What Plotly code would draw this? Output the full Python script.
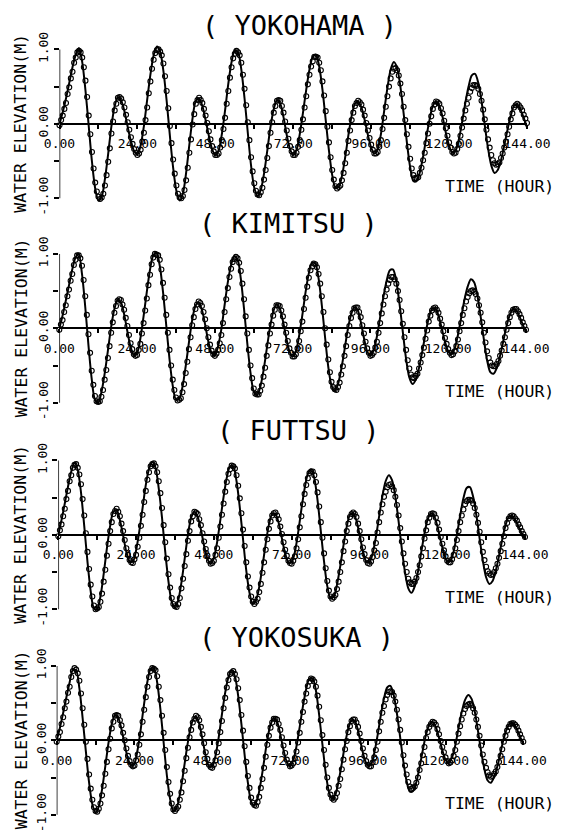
import plotly.graph_objects as go

# ---------------- data ----------------
HOURS = list(range(0, 145))                       # computed series, hourly
OBS_HOURS = [k * 0.5 for k in range(0, 289)]      # observed series, half-hourly
STATIONS = ["YOKOHAMA", "KIMITSU", "FUTTSU", "YOKOSUKA"]

YOKOHAMA_COMPUTED = [
    0.00, 0.16, 0.34, 0.55, 0.76, 0.93, 1.02, 0.83, 0.45, -0.03,
    -0.51, -0.87, -1.03, -0.98, -0.74, -0.40, -0.03, 0.24, 0.36, 0.31,
    0.17, -0.04, -0.23, -0.37, -0.41, -0.29, -0.03, 0.32, 0.66, 0.92,
    1.04, 0.97, 0.71, 0.31, -0.16, -0.59, -0.90, -1.03, -0.94, -0.66,
    -0.28, 0.08, 0.31, 0.34, 0.24, 0.05, -0.16, -0.34, -0.42, -0.36,
    -0.14, 0.18, 0.54, 0.83, 0.99, 0.96, 0.73, 0.34, -0.12, -0.56,
    -0.86, -0.97, -0.89, -0.67, -0.36, -0.04, 0.20, 0.32, 0.27, 0.09,
    -0.15, -0.34, -0.42, -0.35, -0.14, 0.15, 0.46, 0.73, 0.90, 0.93,
    0.77, 0.46, 0.05, -0.36, -0.69, -0.86, -0.85, -0.70, -0.45, -0.15,
    0.11, 0.27, 0.30, 0.22, 0.05, -0.15, -0.32, -0.40, -0.34, -0.14,
    0.17, 0.48, 0.73, 0.83, 0.75, 0.50, 0.14, -0.25, -0.58, -0.77,
    -0.77, -0.65, -0.44, -0.18, 0.06, 0.24, 0.30, 0.24, 0.09, -0.12,
    -0.29, -0.39, -0.36, -0.21, 0.02, 0.28, 0.50, 0.65, 0.67, 0.55,
    0.30, -0.02, -0.33, -0.56, -0.66, -0.62, -0.49, -0.29, -0.08, 0.11,
    0.24, 0.26, 0.19, 0.08, -0.05]
YOKOHAMA_OBSERVED = [
    -0.02, 0.05, 0.11, 0.20, 0.28, 0.40, 0.49, 0.61, 0.70, 0.82,
    0.89, 0.96, 0.98, 0.96, 0.89, 0.76, 0.58, 0.36, 0.11, -0.14,
    -0.38, -0.60, -0.79, -0.91, -0.98, -1.01, -0.99, -0.94, -0.83, -0.69,
    -0.51, -0.33, -0.13, 0.03, 0.18, 0.27, 0.35, 0.36, 0.34, 0.29,
    0.22, 0.12, 0.02, -0.08, -0.18, -0.27, -0.34, -0.39, -0.42, -0.40,
    -0.35, -0.24, -0.12, 0.05, 0.22, 0.41, 0.57, 0.74, 0.86, 0.95,
    0.99, 1.00, 0.97, 0.92, 0.81, 0.64, 0.44, 0.21, -0.03, -0.26,
    -0.48, -0.67, -0.83, -0.94, -0.99, -1.00, -0.97, -0.89, -0.76, -0.59,
    -0.39, -0.21, -0.01, 0.13, 0.27, 0.32, 0.35, 0.32, 0.28, 0.20,
    0.11, 0.01, -0.10, -0.21, -0.30, -0.37, -0.42, -0.42, -0.40, -0.32,
    -0.22, -0.07, 0.08, 0.27, 0.44, 0.62, 0.76, 0.88, 0.94, 0.98,
    0.96, 0.92, 0.82, 0.66, 0.47, 0.25, 0.02, -0.22, -0.45, -0.64,
    -0.80, -0.90, -0.95, -0.96, -0.92, -0.86, -0.75, -0.62, -0.46, -0.30,
    -0.12, 0.02, 0.15, 0.24, 0.31, 0.32, 0.31, 0.24, 0.15, 0.03,
    -0.09, -0.20, -0.30, -0.37, -0.42, -0.42, -0.39, -0.31, -0.22, -0.08,
    0.06, 0.22, 0.37, 0.53, 0.66, 0.77, 0.84, 0.90, 0.90, 0.89,
    0.82, 0.72, 0.57, 0.38, 0.17, -0.04, -0.25, -0.45, -0.62, -0.75,
    -0.84, -0.87, -0.85, -0.83, -0.76, -0.66, -0.53, -0.39, -0.23, -0.09,
    0.05, 0.15, 0.24, 0.28, 0.31, 0.29, 0.26, 0.19, 0.11, 0.01,
    -0.09, -0.19, -0.28, -0.35, -0.40, -0.40, -0.38, -0.31, -0.22, -0.07,
    0.08, 0.23, 0.37, 0.50, 0.61, 0.70, 0.74, 0.75, 0.72, 0.65,
    0.54, 0.40, 0.23, 0.05, -0.14, -0.31, -0.47, -0.60, -0.69, -0.73,
    -0.73, -0.72, -0.66, -0.59, -0.49, -0.39, -0.26, -0.13, 0.00, 0.10,
    0.20, 0.26, 0.30, 0.29, 0.27, 0.21, 0.14, 0.04, -0.06, -0.16,
    -0.25, -0.32, -0.38, -0.40, -0.39, -0.34, -0.27, -0.16, -0.05, 0.07,
    0.18, 0.27, 0.35, 0.43, 0.48, 0.52, 0.52, 0.51, 0.47, 0.40,
    0.31, 0.19, 0.06, -0.08, -0.21, -0.32, -0.42, -0.49, -0.53, -0.55,
    -0.54, -0.52, -0.46, -0.40, -0.32, -0.24, -0.14, -0.04, 0.06, 0.14,
    0.22, 0.25, 0.27, 0.25, 0.22, 0.18, 0.12, 0.07,
    0.01]

KIMITSU_COMPUTED = [
    0.00, 0.17, 0.37, 0.58, 0.79, 0.95, 0.99, 0.73, 0.29, -0.23,
    -0.68, -0.96, -1.00, -0.86, -0.61, -0.30, 0.02, 0.26, 0.38, 0.35,
    0.19, -0.04, -0.25, -0.36, -0.33, -0.14, 0.16, 0.49, 0.79, 0.98,
    1.01, 0.84, 0.49, 0.04, -0.41, -0.77, -0.96, -0.95, -0.79, -0.51,
    -0.19, 0.11, 0.30, 0.35, 0.25, 0.05, -0.18, -0.33, -0.36, -0.24,
    -0.01, 0.31, 0.62, 0.85, 0.97, 0.93, 0.67, 0.26, -0.20, -0.60,
    -0.85, -0.90, -0.79, -0.57, -0.28, 0.01, 0.22, 0.32, 0.27, 0.10,
    -0.12, -0.31, -0.38, -0.31, -0.10, 0.18, 0.49, 0.74, 0.88, 0.87,
    0.67, 0.31, -0.12, -0.52, -0.77, -0.84, -0.75, -0.55, -0.29, -0.02,
    0.18, 0.28, 0.25, 0.09, -0.13, -0.31, -0.37, -0.29, -0.11, 0.15,
    0.42, 0.64, 0.78, 0.79, 0.63, 0.32, -0.05, -0.41, -0.66, -0.75,
    -0.69, -0.53, -0.31, -0.07, 0.14, 0.26, 0.27, 0.17, 0.00, -0.18,
    -0.31, -0.35, -0.27, -0.09, 0.14, 0.38, 0.56, 0.66, 0.62, 0.44,
    0.16, -0.15, -0.43, -0.59, -0.61, -0.53, -0.37, -0.17, 0.03, 0.18,
    0.26, 0.24, 0.16, 0.05, -0.05]
KIMITSU_OBSERVED = [
    -0.02, 0.05, 0.11, 0.22, 0.31, 0.43, 0.52, 0.64, 0.73, 0.85,
    0.92, 0.98, 0.98, 0.94, 0.84, 0.65, 0.43, 0.18, -0.08, -0.33,
    -0.57, -0.76, -0.91, -0.98, -0.99, -0.98, -0.92, -0.83, -0.69, -0.56,
    -0.40, -0.24, -0.06, 0.08, 0.21, 0.30, 0.37, 0.39, 0.38, 0.32,
    0.25, 0.14, 0.03, -0.09, -0.20, -0.28, -0.35, -0.37, -0.36, -0.29,
    -0.21, -0.07, 0.07, 0.24, 0.40, 0.58, 0.72, 0.86, 0.95, 1.00,
    0.99, 0.98, 0.92, 0.79, 0.61, 0.41, 0.18, -0.06, -0.29, -0.50,
    -0.69, -0.83, -0.93, -0.97, -0.96, -0.94, -0.86, -0.75, -0.60, -0.45,
    -0.28, -0.12, 0.04, 0.15, 0.26, 0.32, 0.36, 0.34, 0.30, 0.22,
    0.12, 0.00, -0.12, -0.22, -0.30, -0.35, -0.37, -0.34, -0.29, -0.20,
    -0.09, 0.07, 0.22, 0.39, 0.54, 0.69, 0.80, 0.89, 0.93, 0.96,
    0.94, 0.88, 0.77, 0.60, 0.39, 0.16, -0.07, -0.29, -0.50, -0.67,
    -0.81, -0.88, -0.89, -0.89, -0.84, -0.77, -0.65, -0.53, -0.37, -0.23,
    -0.07, 0.05, 0.17, 0.25, 0.31, 0.31, 0.30, 0.24, 0.16, 0.05,
    -0.06, -0.17, -0.27, -0.33, -0.38, -0.38, -0.35, -0.27, -0.17, -0.04,
    0.09, 0.26, 0.41, 0.56, 0.68, 0.78, 0.83, 0.87, 0.86, 0.82,
    0.73, 0.60, 0.43, 0.22, 0.00, -0.22, -0.42, -0.59, -0.72, -0.79,
    -0.82, -0.83, -0.79, -0.73, -0.62, -0.51, -0.37, -0.24, -0.09, 0.03,
    0.14, 0.21, 0.27, 0.28, 0.28, 0.22, 0.15, 0.04, -0.07, -0.18,
    -0.27, -0.33, -0.37, -0.36, -0.33, -0.26, -0.18, -0.06, 0.07, 0.20,
    0.32, 0.43, 0.52, 0.60, 0.65, 0.69, 0.69, 0.66, 0.60, 0.50,
    0.38, 0.23, 0.06, -0.12, -0.29, -0.43, -0.54, -0.62, -0.66, -0.67,
    -0.64, -0.61, -0.54, -0.46, -0.36, -0.26, -0.14, -0.03, 0.09, 0.17,
    0.24, 0.27, 0.28, 0.25, 0.21, 0.13, 0.05, -0.04, -0.13, -0.21,
    -0.28, -0.33, -0.36, -0.35, -0.31, -0.24, -0.15, -0.04, 0.07, 0.18,
    0.27, 0.36, 0.42, 0.47, 0.50, 0.51, 0.49, 0.46, 0.40, 0.31,
    0.21, 0.08, -0.06, -0.19, -0.31, -0.40, -0.46, -0.50, -0.51, -0.51,
    -0.48, -0.44, -0.37, -0.30, -0.21, -0.12, -0.02, 0.07, 0.15, 0.21,
    0.25, 0.26, 0.26, 0.23, 0.19, 0.14, 0.08, 0.03,
    -0.02]

FUTTSU_COMPUTED = [
    0.00, 0.20, 0.42, 0.65, 0.85, 0.97, 0.87, 0.57, 0.12, -0.36,
    -0.76, -0.99, -1.00, -0.83, -0.53, -0.18, 0.12, 0.31, 0.33, 0.20,
    -0.01, -0.23, -0.36, -0.36, -0.21, 0.05, 0.36, 0.67, 0.89, 0.98,
    0.90, 0.62, 0.23, -0.23, -0.63, -0.90, -0.98, -0.88, -0.64, -0.32,
    0.00, 0.23, 0.31, 0.24, 0.07, -0.15, -0.32, -0.39, -0.31, -0.10,
    0.20, 0.51, 0.77, 0.92, 0.92, 0.72, 0.37, -0.06, -0.48, -0.78,
    -0.93, -0.88, -0.70, -0.42, -0.12, 0.14, 0.28, 0.28, 0.16, -0.05,
    -0.25, -0.37, -0.37, -0.23, 0.03, 0.34, 0.62, 0.82, 0.88, 0.76,
    0.46, 0.05, -0.36, -0.69, -0.85, -0.83, -0.67, -0.42, -0.14, 0.11,
    0.27, 0.29, 0.19, -0.01, -0.22, -0.36, -0.37, -0.25, -0.03, 0.25,
    0.52, 0.72, 0.80, 0.73, 0.51, 0.18, -0.19, -0.51, -0.72, -0.78,
    -0.69, -0.49, -0.23, 0.02, 0.21, 0.29, 0.25, 0.11, -0.08, -0.25,
    -0.36, -0.35, -0.22, 0.00, 0.26, 0.49, 0.63, 0.64, 0.51, 0.26,
    -0.05, -0.35, -0.57, -0.66, -0.62, -0.48, -0.28, -0.06, 0.13, 0.24,
    0.25, 0.20, 0.11, 0.02, -0.06]
FUTTSU_OBSERVED = [
    -0.02, 0.06, 0.14, 0.25, 0.35, 0.48, 0.59, 0.72, 0.80, 0.90,
    0.94, 0.95, 0.90, 0.81, 0.68, 0.48, 0.26, 0.02, -0.23, -0.46,
    -0.67, -0.83, -0.95, -1.00, -0.99, -0.97, -0.90, -0.79, -0.63, -0.47,
    -0.28, -0.12, 0.05, 0.17, 0.28, 0.32, 0.35, 0.31, 0.25, 0.15,
    0.05, -0.07, -0.18, -0.27, -0.34, -0.37, -0.38, -0.33, -0.27, -0.16,
    -0.04, 0.12, 0.27, 0.44, 0.59, 0.74, 0.84, 0.92, 0.95, 0.96,
    0.92, 0.84, 0.72, 0.56, 0.36, 0.13, -0.10, -0.32, -0.53, -0.71,
    -0.85, -0.93, -0.96, -0.97, -0.93, -0.85, -0.72, -0.59, -0.42, -0.26,
    -0.08, 0.05, 0.18, 0.25, 0.31, 0.30, 0.28, 0.21, 0.13, 0.02,
    -0.09, -0.19, -0.28, -0.35, -0.39, -0.38, -0.35, -0.27, -0.18, -0.04,
    0.11, 0.27, 0.42, 0.58, 0.71, 0.82, 0.88, 0.93, 0.92, 0.89,
    0.80, 0.66, 0.49, 0.29, 0.07, -0.15, -0.37, -0.56, -0.71, -0.83,
    -0.90, -0.93, -0.90, -0.86, -0.77, -0.66, -0.51, -0.37, -0.20, -0.06,
    0.08, 0.18, 0.26, 0.29, 0.30, 0.26, 0.21, 0.11, 0.01, -0.10,
    -0.20, -0.28, -0.35, -0.38, -0.39, -0.35, -0.29, -0.18, -0.06, 0.10,
    0.25, 0.41, 0.55, 0.67, 0.76, 0.83, 0.85, 0.85, 0.80, 0.71,
    0.57, 0.38, 0.17, -0.04, -0.25, -0.45, -0.62, -0.75, -0.83, -0.86,
    -0.84, -0.81, -0.73, -0.63, -0.50, -0.37, -0.22, -0.09, 0.05, 0.15,
    0.24, 0.28, 0.30, 0.28, 0.24, 0.15, 0.05, -0.06, -0.17, -0.26,
    -0.34, -0.38, -0.39, -0.36, -0.30, -0.21, -0.11, 0.03, 0.17, 0.30,
    0.41, 0.51, 0.58, 0.64, 0.67, 0.68, 0.65, 0.60, 0.51, 0.40,
    0.26, 0.09, -0.09, -0.25, -0.39, -0.50, -0.59, -0.64, -0.66, -0.66,
    -0.63, -0.58, -0.50, -0.41, -0.29, -0.18, -0.05, 0.06, 0.17, 0.23,
    0.28, 0.29, 0.28, 0.23, 0.16, 0.07, -0.03, -0.12, -0.21, -0.29,
    -0.35, -0.37, -0.37, -0.33, -0.27, -0.18, -0.07, 0.05, 0.17, 0.26,
    0.34, 0.41, 0.45, 0.47, 0.47, 0.46, 0.42, 0.36, 0.27, 0.16,
    0.04, -0.10, -0.23, -0.34, -0.43, -0.49, -0.52, -0.54, -0.53, -0.50,
    -0.45, -0.39, -0.31, -0.22, -0.12, -0.02, 0.09, 0.16, 0.22, 0.25,
    0.26, 0.25, 0.22, 0.19, 0.14, 0.10, 0.05, 0.01,
    -0.03]

YOKOSUKA_COMPUTED = [
    0.00, 0.17, 0.37, 0.58, 0.78, 0.95, 0.94, 0.70, 0.30, -0.15,
    -0.57, -0.86, -0.97, -0.89, -0.66, -0.35, -0.03, 0.22, 0.34, 0.30,
    0.15, -0.06, -0.25, -0.34, -0.31, -0.12, 0.17, 0.50, 0.79, 0.96,
    0.97, 0.78, 0.42, -0.03, -0.47, -0.79, -0.95, -0.91, -0.73, -0.46,
    -0.16, 0.10, 0.27, 0.32, 0.22, 0.01, -0.21, -0.35, -0.35, -0.21,
    0.04, 0.35, 0.64, 0.85, 0.94, 0.86, 0.60, 0.22, -0.20, -0.57,
    -0.82, -0.88, -0.78, -0.56, -0.28, 0.01, 0.21, 0.30, 0.25, 0.08,
    -0.13, -0.29, -0.35, -0.27, -0.08, 0.18, 0.46, 0.69, 0.83, 0.83,
    0.67, 0.34, -0.05, -0.43, -0.69, -0.79, -0.73, -0.55, -0.31, -0.05,
    0.16, 0.27, 0.26, 0.13, -0.07, -0.25, -0.34, -0.32, -0.17, 0.06,
    0.33, 0.56, 0.71, 0.73, 0.61, 0.36, 0.04, -0.29, -0.55, -0.69,
    -0.68, -0.56, -0.36, -0.13, 0.08, 0.21, 0.25, 0.18, 0.03, -0.13,
    -0.26, -0.30, -0.23, -0.07, 0.16, 0.38, 0.54, 0.61, 0.56, 0.39,
    0.13, -0.15, -0.39, -0.54, -0.57, -0.49, -0.35, -0.16, 0.03, 0.16,
    0.23, 0.22, 0.15, 0.05, -0.05]
YOKOSUKA_OBSERVED = [
    -0.02, 0.05, 0.11, 0.22, 0.31, 0.43, 0.52, 0.64, 0.72, 0.85,
    0.93, 0.97, 0.95, 0.90, 0.80, 0.63, 0.43, 0.21, -0.02, -0.25,
    -0.46, -0.65, -0.80, -0.90, -0.95, -0.96, -0.92, -0.85, -0.74, -0.61,
    -0.45, -0.29, -0.12, 0.02, 0.16, 0.25, 0.33, 0.34, 0.33, 0.27,
    0.20, 0.10, 0.00, -0.11, -0.21, -0.28, -0.33, -0.35, -0.34, -0.27,
    -0.19, -0.06, 0.08, 0.25, 0.41, 0.58, 0.72, 0.85, 0.93, 0.97,
    0.96, 0.94, 0.86, 0.72, 0.54, 0.33, 0.10, -0.13, -0.36, -0.56,
    -0.72, -0.85, -0.93, -0.95, -0.92, -0.89, -0.80, -0.70, -0.55, -0.41,
    -0.24, -0.10, 0.04, 0.14, 0.24, 0.29, 0.33, 0.31, 0.27, 0.18,
    0.08, -0.04, -0.16, -0.25, -0.33, -0.36, -0.37, -0.33, -0.27, -0.16,
    -0.04, 0.11, 0.26, 0.43, 0.57, 0.71, 0.81, 0.89, 0.91, 0.93,
    0.89, 0.82, 0.70, 0.54, 0.34, 0.13, -0.08, -0.29, -0.48, -0.64,
    -0.77, -0.84, -0.87, -0.88, -0.83, -0.76, -0.64, -0.52, -0.37, -0.22,
    -0.06, 0.06, 0.17, 0.24, 0.29, 0.29, 0.28, 0.22, 0.14, 0.04,
    -0.07, -0.17, -0.26, -0.31, -0.35, -0.34, -0.31, -0.24, -0.15, -0.03,
    0.10, 0.25, 0.38, 0.52, 0.63, 0.73, 0.79, 0.83, 0.82, 0.79,
    0.72, 0.60, 0.45, 0.27, 0.07, -0.13, -0.33, -0.50, -0.64, -0.73,
    -0.78, -0.80, -0.77, -0.71, -0.61, -0.52, -0.39, -0.26, -0.12, -0.01,
    0.11, 0.19, 0.26, 0.28, 0.28, 0.24, 0.18, 0.09, -0.01, -0.11,
    -0.21, -0.28, -0.33, -0.35, -0.35, -0.30, -0.23, -0.13, -0.02, 0.12,
    0.25, 0.37, 0.46, 0.55, 0.61, 0.65, 0.66, 0.65, 0.60, 0.52,
    0.41, 0.28, 0.14, -0.03, -0.20, -0.34, -0.46, -0.56, -0.62, -0.65,
    -0.64, -0.62, -0.57, -0.50, -0.40, -0.31, -0.20, -0.09, 0.03, 0.11,
    0.18, 0.22, 0.25, 0.24, 0.21, 0.15, 0.08, -0.01, -0.09, -0.16,
    -0.23, -0.28, -0.31, -0.30, -0.27, -0.21, -0.13, -0.02, 0.09, 0.19,
    0.28, 0.36, 0.42, 0.46, 0.48, 0.49, 0.47, 0.43, 0.37, 0.28,
    0.18, 0.06, -0.07, -0.19, -0.29, -0.37, -0.43, -0.47, -0.49, -0.48,
    -0.45, -0.42, -0.36, -0.29, -0.21, -0.12, -0.02, 0.06, 0.13, 0.18,
    0.22, 0.23, 0.23, 0.21, 0.18, 0.13, 0.08, 0.03,
    -0.02]

X_TICK_VALUES = [0, 12, 24, 36, 48, 60, 72, 84, 96, 108, 120, 132, 144]
X_TICK_LABELS = ["0.00", "", "24.00", "", "48.00", "", "72.00", "",
                 "96.00", "", "120.00", "", "144.00"]
Y_TICK_VALUES = [-1.0, -0.5, 0.0, 0.5, 1.0]
Y_TICK_LABELS = ["-1.00", "", "0.00", "", "1.00"]
Y_TITLE = "WATER ELEVATION(M)"
X_TITLE = "TIME (HOUR)"

COMPUTED = [YOKOHAMA_COMPUTED, KIMITSU_COMPUTED, FUTTSU_COMPUTED, YOKOSUKA_COMPUTED]
OBSERVED = [YOKOHAMA_OBSERVED, KIMITSU_OBSERVED, FUTTSU_OBSERVED, YOKOSUKA_OBSERVED]

# ---------------- layout geometry (page pixels) ----------------
PAGE_OFF = 8                                # default body margin of the page
W, H = 569 - PAGE_OFF, 839 - PAGE_OFF       # figure size
ZERO_PX = [123.8, 328.3, 534.8, 740.3]      # page y of the zero line
LEFT_PX = [59.5, 59.3, 58.3, 56.7]          # page x of hour 0
RIGHT_PX = [527.0, 526.0, 525.0, 523.3]     # page x of hour 144
TITLE_X = [299, 288, 298, 296]
TITLE_TOP = [8, 206, 413, 620]              # page y of the title box top
PPU = 74.4                                   # pixels per metre
YR = 1.2


def fx(px):
    return (px - PAGE_OFF) / W


def fy(py):
    return (H - (py - PAGE_OFF)) / H


FONT = "DejaVu Sans Mono"
fig = go.Figure()
shapes, annotations = [], []
layout_axes = {}

for i in range(4):
    sfx = "" if i == 0 else str(i + 1)
    xref, yref = "x" + sfx, "y" + sfx
    zero_frac = fy(ZERO_PX[i])
    half = YR * PPU / H

    fig.add_trace(go.Scatter(
        x=OBS_HOURS, y=OBSERVED[i], mode="markers", xaxis=xref, yaxis=yref,
        marker=dict(symbol="circle-open", size=5, color="black",
                    line=dict(width=1.1, color="black")),
        cliponaxis=False, showlegend=False, hoverinfo="skip"))
    fig.add_trace(go.Scatter(
        x=HOURS, y=COMPUTED[i], mode="lines", xaxis=xref, yaxis=yref,
        line=dict(color="black", width=2, shape="spline", smoothing=0.8),
        showlegend=False, hoverinfo="skip"))

    layout_axes["xaxis" + sfx] = dict(
        domain=[fx(LEFT_PX[i]), fx(RIGHT_PX[i])], range=[0, 144],
        anchor="free", position=zero_frac, side="bottom", automargin=False,
        showline=True, linecolor="black", linewidth=2,
        ticks="outside", ticklen=4, tickwidth=1.5, tickcolor="black",
        tickvals=X_TICK_VALUES, ticktext=X_TICK_LABELS,
        tickfont=dict(family=FONT, size=13, color="black"),
        ticklabelstandoff=4,
        showgrid=False, zeroline=False, fixedrange=True)
    layout_axes["yaxis" + sfx] = dict(
        domain=[zero_frac - half, zero_frac + half], range=[-YR, YR],
        anchor=xref, showline=False, automargin=False,
        ticks="outside", ticklen=5, tickwidth=1.5, tickcolor="black",
        tickvals=Y_TICK_VALUES, ticktext=Y_TICK_LABELS, tickangle=-90,
        tickfont=dict(family=FONT, size=13, color="black"),
        showgrid=False, zeroline=False, fixedrange=True)

    shapes.append(dict(type="line", xref=xref, yref=yref, x0=0, x1=0,
                       y0=-1, y1=1, line=dict(color="black", width=1.5)))

    annotations.append(dict(
        text="( %s )" % STATIONS[i], xref="paper", yref="paper",
        x=fx(TITLE_X[i]), y=fy(TITLE_TOP[i]), showarrow=False,
        xanchor="center", yanchor="top",
        font=dict(family=FONT, size=27, color="black")))
    annotations.append(dict(
        text=X_TITLE, xref="paper", yref="paper",
        x=fx(556), y=fy(ZERO_PX[i] + 63), showarrow=False,
        xanchor="right", yanchor="middle",
        font=dict(family=FONT, size=16.5, color="black")))
    annotations.append(dict(
        text=Y_TITLE, xref="paper", yref="paper", textangle=-90,
        x=fx(21), y=fy(ZERO_PX[i]), showarrow=False,
        xanchor="center", yanchor="middle",
        font=dict(family=FONT, size=16.5, color="black")))

fig.update_layout(
    template="none",
    width=W, height=H, margin=dict(l=0, r=0, t=0, b=0, pad=0),
    paper_bgcolor="white", plot_bgcolor="white",
    shapes=shapes, annotations=annotations, showlegend=False,
    **layout_axes)

fig.write_html("out.html")
